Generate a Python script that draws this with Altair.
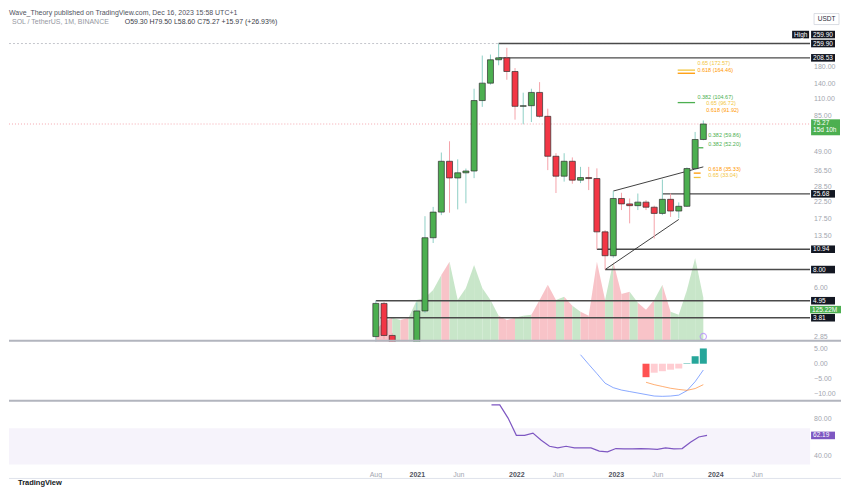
import altair as alt
import pandas as pd

# ---------------- data ----------------
months = ["2020-08", "2020-09", "2020-10", "2020-11", "2020-12",
          "2021-01", "2021-02", "2021-03", "2021-04", "2021-05", "2021-06",
          "2021-07", "2021-08", "2021-09", "2021-10", "2021-11", "2021-12",
          "2022-01", "2022-02", "2022-03", "2022-04", "2022-05", "2022-06",
          "2022-07", "2022-08", "2022-09", "2022-10", "2022-11", "2022-12",
          "2023-01", "2023-02", "2023-03", "2023-04", "2023-05", "2023-06",
          "2023-07", "2023-08", "2023-09", "2023-10", "2023-11", "2023-12"]

opens = [2.85, 4.75, 2.90, 1.60, 1.95, 1.52, 4.23, 13.06, 19.38, 42.4, 32.8,
         35.5, 36.5, 108.0, 141.2, 202.4, 208.5, 169.0, 98.8, 99.8, 122.4,
         84.7, 45.8, 33.7, 42.4, 31.7, 33.0, 32.5, 14.3, 9.9, 23.9,
         22.0, 21.4, 22.6, 20.9, 19.0, 23.6, 19.7, 21.2, 37.9, 59.30]
highs = [4.95, 4.85, 3.0, 2.5, 2.4, 4.81, 18.2, 21.0, 48.5, 57.7, 43.7,
         37.9, 129.6, 216.0, 219.4, 259.9, 243.3, 178.0, 121.9, 129.6, 143.5,
         95.3, 48.0, 48.0, 45.0, 38.9, 38.9, 38.0, 14.7, 26.8, 26.1,
         23.9, 25.8, 23.3, 21.4, 32.0, 25.8, 22.5, 38.6, 66.6, 79.50]
lows = [2.6, 2.75, 1.5, 1.4, 1.4, 1.45, 4.1, 12.04, 18.5, 19.2, 20.2,
        22.2, 32.7, 98.0, 138.0, 186.0, 148.8, 80.5, 74.9, 77.6, 83.0,
        37.0, 26.0, 31.0, 30.0, 30.3, 27.2, 10.94, 8.0, 9.6, 20.0,
        16.3, 20.0, 20.0, 12.9, 18.5, 18.0, 17.6, 21.0, 37.0, 58.60]
closes = [4.75, 2.90, 1.60, 1.95, 1.52, 4.23, 13.06, 19.38, 42.4, 32.8, 35.5,
          36.5, 108.0, 141.2, 202.4, 208.5, 169.0, 98.8, 99.8, 122.4, 84.7,
          45.8, 33.7, 42.4, 31.7, 33.0, 32.5, 14.3, 9.9, 23.9, 22.0,
          21.4, 22.6, 20.9, 19.0, 23.6, 19.7, 21.2, 37.9, 59.30, 75.27]
volumes = [34, 57, 68, 62, 68, 119, 125, 147, 190, 227, 119,
           153, 218, 153, 119, 74, 62, 68, 74, 77, 119,
           162, 119, 128, 102, 85, 74, 227, 119, 227, 136,
           142, 111, 91, 119, 162, 85, 77, 147, 238, 125.22]

# horizontal levels: price and the month index they start at
level_prices = [259.90, 208.53, 25.68, 10.94, 8.00, 4.95, 3.81]
level_start = [15, 15, 35, 27, 28, 0, 0.57]

# trend lines (start month, price) -> (end month, price)
trend_from = [("2023-01", 26.8), ("2022-12", 8.0)]
trend_to = [("2023-12", 38.9), ("2023-09", 17.3)]

# fibonacci annotations
fib_ratio = ["0.65", "0.618", "0.382", "0.65", "0.618", "0.382", "0.382", "0.618", "0.65"]
fib_value = [172.57, 164.46, 104.67, 96.72, 91.92, 59.86, 52.20, 35.33, 33.04]
fib_text_at = [39.28, 39.28, 39.28, 40.36, 40.36, 40.6, 40.6, 40.6, 40.6]
fib_line_ratio = ["0.65", "0.618", "0.382", "0.382", "0.618", "0.65"]
fib_line_value = [172.57, 164.46, 104.67, 52.20, 35.33, 33.04]
fib_line_from = [36.87, 36.87, 36.87, 39.28, 38.83, 38.83]
fib_line_to = [38.99, 38.99, 38.99, 40.0, 39.67, 39.67]

# MACD (12,26,9)
macd_vals = [3.0, -0.2, -3.3, -6.5, -8.0, -8.8, -9.3, -9.8, -10.3, -10.8,
             -10.9, -10.8, -10.5, -9.0, -6.0, -2.1]          # from 2022-09
signal_vals = [-6.2, -7.0, -7.6, -8.2, -8.6, -8.9, -8.3, -7.0]  # from 2023-05
hist_vals = [-4.5, -3.0, -2.5, -2.0, -1.6, 0.15, 2.5, 5.1]      # from 2023-05

# RSI (14)
rsi_vals = [95.9, 95.9, 81.3, 62.3, 62.3, 64.8, 56.8, 50.2, 48.4, 50.2,
            48.4, 48.4, 48.4, 44.8, 44.1, 47.7, 47.4, 47.4, 47.7, 47.4,
            46.7, 48.4, 47.4, 47.7, 54.6, 60.5, 62.19]         # from 2021-10

time_tick_months = ["2020-08", "2021-01", "2021-06", "2022-01", "2022-06",
                    "2023-01", "2023-06", "2024-01", "2024-06"]
time_tick_labels = ["Aug", "2021", "Jun", "2022", "Jun", "2023", "Jun", "2024", "Jun"]
price_ticks = [180, 140, 110, 85, 49, 36.5, 28.5, 22.5, 17.5, 13.5, 6, 2.85]
macd_ticks = [5, 0, -5, -10]
rsi_ticks = [80, 40]

title_text = "Wave_Theory published on TradingView.com, Dec 16, 2023 15:58 UTC+1"
symbol_text = "SOL / TetherUS, 1M, BINANCE"
ohlc_text = "O59.30  H79.50  L58.60  C75.27  +15.97 (+26.93%)"
countdown_text = "15d 10h"


# ---------------- helpers ----------------
def mi(m):
    y, mo = m.split("-")
    return (int(y) - 2020) * 12 + (int(mo) - 8)


def fmt(v):
    return f"{v:.2f}".replace("-", "\u2212")


W, HM, HD, HR = 803, 334, 59, 63
FONT = "Liberation Sans"
AXIS_GRAY = "#a3a6af"
xs = alt.Scale(domain=[-44.2, 52.43], nice=False, zero=False)
ps = alt.Scale(type="log", domain=[2.631, 445.3], nice=False)
vs = alt.Scale(domain=[0, 946.5], nice=False, zero=True)
ds = alt.Scale(domain=[-12.67, 7.0], nice=False, zero=False)
rs = alt.Scale(domain=[29.0, 98.4], nice=False, zero=False)


def X(f="i"):
    return alt.X(f"{f}:Q", scale=xs, axis=None)


def P(f):
    return alt.Y(f"{f}:Q", scale=ps, axis=None)


def tick_labels(values, scale):
    df = pd.DataFrame({"v": values, "t": [fmt(v) for v in values]})
    return alt.Chart(df).mark_text(align="left", baseline="middle", fontSize=7, color=AXIS_GRAY).encode(
        x=alt.value(W + 4), y=alt.Y("v:Q", scale=scale, axis=None), text="t:N")


idx = [mi(m) for m in months]
candles = pd.DataFrame({"i": idx, "open": opens, "high": highs, "low": lows, "close": closes})
up_test = "datum.close >= datum.open"

# ---------------- main panel ----------------
vrows = []
for k in range(1, len(idx)):
    d = "up" if closes[k] >= opens[k] else "down"
    vrows.append({"i": idx[k - 1], "v": volumes[k - 1], "seg": k, "dir": d})
    vrows.append({"i": idx[k], "v": volumes[k], "seg": k, "dir": d})
vol_df = pd.DataFrame(vrows)

vol_area = alt.Chart(vol_df).mark_area(clip=True, interpolate="linear").encode(
    x=X(),
    y=alt.Y("v:Q", scale=vs, axis=None, stack=None),
    color=alt.Color("dir:N", scale=alt.Scale(domain=["up", "down"], range=["#c8e6c9", "#f8c3c8"]), legend=None),
    detail="seg:N",
)
vlast = pd.DataFrame({"v": [volumes[-1]], "t": [f"{volumes[-1]:.2f}M"]})
vol_box = alt.Chart(vlast).mark_rect(color="#4caf50", yOffset=8.2, y2Offset=15.6).encode(
    x=alt.value(W), x2=alt.value(W + 31), y=alt.Y("v:Q", scale=vs, axis=None), y2="v")
vol_txt = alt.Chart(vlast).mark_text(color="white", fontSize=6.5, align="left", baseline="middle", dy=11.9).encode(
    x=alt.value(W + 2), y=alt.Y("v:Q", scale=vs, axis=None), text="t:N")
vol_group = alt.layer(vol_area, vol_box, vol_txt)

hi_df = pd.DataFrame({"p": [max(highs)], "t": [f"{max(highs):.2f}"], "h": ["High"]})
high_line = alt.Chart(hi_df).mark_rule(color="#c4c6cc", strokeDash=[2, 2], strokeWidth=1).encode(
    x=alt.value(0), x2=alt.value(W), y=P("p"))
cp_df = pd.DataFrame({"p": [closes[-1]], "t": [f"{closes[-1]:.2f}"], "c": [countdown_text]})
cp_line = alt.Chart(cp_df).mark_rule(color="#f5a8b0", strokeDash=[1, 2], strokeWidth=1).encode(
    x=alt.value(0), x2=alt.value(W), y=P("p"))

lv = pd.DataFrame({"p": level_prices, "start": level_start, "t": [f"{p:.2f}" for p in level_prices]})
level_lines = alt.Chart(lv).mark_rule(color="#4a4a4a", strokeWidth=1.4, clip=True).encode(
    x=X("start"), x2=alt.value(W), y=P("p"))

tl = pd.DataFrame({"x0": [mi(a) for a, _ in trend_from], "p0": [b for _, b in trend_from],
                   "x1": [mi(a) for a, _ in trend_to], "p1": [b for _, b in trend_to]})
trend = alt.Chart(tl).mark_rule(color="#2a2a2a", strokeWidth=0.9, clip=True).encode(
    x=X("x0"), x2="x1", y=P("p0"), y2="p1")

wick = alt.Chart(candles).mark_rule(clip=True, strokeWidth=1).encode(
    x=X(), y=P("low"), y2="high",
    color=alt.condition(up_test, alt.value("#8fd0c6"), alt.value("#f5a3aa")))
body = alt.Chart(candles).mark_bar(size=6, clip=True, stroke="#2f2f2f", strokeWidth=0.7).encode(
    x=X(), y=P("open"), y2="close",
    fill=alt.condition(up_test, alt.value("#4caf50"), alt.value("#f23645")))

fib_scale = alt.Scale(domain=["0.382", "0.618", "0.65"], range=["#4caf50", "#ff9800", "#f2c53d"])
fl = pd.DataFrame({"r": fib_line_ratio, "p": fib_line_value, "x0": fib_line_from, "x1": fib_line_to})
fib_lines = alt.Chart(fl).mark_rule(strokeWidth=1.3).encode(
    x=X("x0"), x2="x1", y=P("p"), color=alt.Color("r:N", scale=fib_scale, legend=None))
ft = pd.DataFrame({"r": fib_ratio, "p": fib_value, "i": fib_text_at,
                   "t": [f"{r} ({v:.2f})" for r, v in zip(fib_ratio, fib_value)]})
# vertical nudges of each fib label (pixels) so neighbouring labels stay readable
fib_dy = [-7.5, -3.5, -5.5, -4.5, -1.0, -4.0, -3.5, -4.5, -2.0]
fib_text_layers = []
for k in range(len(ft)):
    fib_text_layers.append(
        alt.Chart(ft.iloc[[k]]).mark_text(align="left", baseline="middle", fontSize=5.5, dy=fib_dy[k]).encode(
            x=X(), y=P("p"), text="t:N", color=alt.Color("r:N", scale=fib_scale, legend=None)))

level_box = alt.Chart(lv).mark_rect(color="#131722", yOffset=-3.8, y2Offset=3.8).encode(
    x=alt.value(W + 1), x2=alt.value(W + 25), y=P("p"), y2="p")
level_txt = alt.Chart(lv).mark_text(color="white", fontSize=6.5, align="left", baseline="middle").encode(
    x=alt.value(W + 3), y=P("p"), text="t:N")
high_box = alt.Chart(hi_df).mark_rect(color="#131722", yOffset=-12.8, y2Offset=-5.2).encode(
    x=alt.value(W + 1), x2=alt.value(W + 25), y=P("p"), y2="p")
high_box2 = alt.Chart(hi_df).mark_rect(color="#131722", yOffset=-12.8, y2Offset=-5.2).encode(
    x=alt.value(W - 18), x2=alt.value(W - 1), y=P("p"), y2="p")
high_txt = alt.Chart(hi_df).mark_text(color="white", fontSize=6.5, align="left", baseline="middle", dy=-9).encode(
    x=alt.value(W + 3), y=P("p"), text="t:N")
high_txt2 = alt.Chart(hi_df).mark_text(color="white", fontSize=6.5, align="left", baseline="middle", dy=-9).encode(
    x=alt.value(W - 16), y=P("p"), text="h:N")

cp_box = alt.Chart(cp_df).mark_rect(color="#4caf50", yOffset=-4.7, y2Offset=11.3).encode(
    x=alt.value(W + 1), x2=alt.value(W + 30), y=P("p"), y2="p")
cp_txt = alt.Chart(cp_df).mark_text(color="white", fontSize=6.5, align="left", baseline="middle", dy=-1.5).encode(
    x=alt.value(W + 3), y=P("p"), text="t:N")
cp_txt2 = alt.Chart(cp_df).mark_text(color="white", fontSize=6.5, align="left", baseline="middle", dy=6.3).encode(
    x=alt.value(W + 3), y=P("p"), text="c:N")

ev = pd.DataFrame({"i": [idx[-1]], "p": [2.85]})
event = alt.Chart(ev).mark_point(shape="circle", size=40, filled=False, stroke="#b388ff", strokeWidth=1.2).encode(
    x=X(), y=P("p"))

one = pd.DataFrame({"t": [title_text], "s": [symbol_text], "o": [ohlc_text], "u": ["USDT"]})
hdr1 = alt.Chart(one).mark_text(align="left", baseline="top", fontSize=7, color="#50535e").encode(
    x=alt.value(0), y=alt.value(0), text="t:N")
hdr2 = alt.Chart(one).mark_text(align="left", baseline="middle", fontSize=7, color="#9598a1").encode(
    x=alt.value(3), y=alt.value(13), text="s:N")
hdr3 = alt.Chart(one).mark_text(align="left", baseline="middle", fontSize=7, color="#3a3d47").encode(
    x=alt.value(116), y=alt.value(13), text="o:N")
usdt_box = alt.Chart(one).mark_rect(fill="white", stroke="#d1d4dc", strokeWidth=0.8).encode(
    x=alt.value(W + 4), x2=alt.value(W + 29), y=alt.value(5), y2=alt.value(16))
usdt_txt = alt.Chart(one).mark_text(align="center", baseline="middle", fontSize=6.5, color="#2a2e39").encode(
    x=alt.value(W + 16.5), y=alt.value(10.5), text="u:N")
sep1 = alt.Chart(one).mark_rule(color="#b2b5be", strokeWidth=2).encode(
    x=alt.value(0), x2=alt.value(W + 31), y=alt.value(HM - 1))

price_group = alt.layer(
    tick_labels(price_ticks, ps),
    high_line, cp_line, level_lines, trend, wick, body, fib_lines, *fib_text_layers, event,
    level_box, level_txt, high_box, high_box2, high_txt, high_txt2, cp_box, cp_txt, cp_txt2,
    hdr1, hdr2, hdr3, usdt_box, usdt_txt, sep1,
)
main = alt.layer(vol_group, price_group).resolve_scale(y="independent", color="independent").properties(
    width=W, height=HM)

# ---------------- MACD panel ----------------
hist_idx = [mi(m) for m in months[33:]]
cats = []
for k, h in enumerate(hist_vals):
    prev = hist_vals[k - 1] if k > 0 else 0.0
    rising = h > prev
    if h >= 0:
        cats.append("pos_up" if rising else "pos_dn")
    else:
        cats.append("neg_up" if rising else "neg_dn")
hist_df = pd.DataFrame({"i": hist_idx, "h": hist_vals, "c": cats})
hist = alt.Chart(hist_df).mark_bar(size=7).encode(
    x=X(), y=alt.Y("h:Q", scale=ds, axis=None), y2=alt.datum(0),
    color=alt.Color("c:N", scale=alt.Scale(domain=["neg_dn", "neg_up", "pos_up", "pos_dn"],
                                           range=["#ff5252", "#ffcdd2", "#26a69a", "#b2dfdb"]), legend=None))
macd_df = pd.DataFrame({"i": [mi(m) for m in months[25:]], "m": macd_vals})
macd_line = alt.Chart(macd_df).mark_line(color="#2962ff", strokeWidth=1, opacity=0.55).encode(
    x=X(), y=alt.Y("m:Q", scale=ds, axis=None))
sig_df = pd.DataFrame({"i": [mi(m) for m in months[33:]], "s": signal_vals})
sig_line = alt.Chart(sig_df).mark_line(color="#ff6d00", strokeWidth=1, opacity=0.55).encode(
    x=X(), y=alt.Y("s:Q", scale=ds, axis=None))
sep2 = alt.Chart(one).mark_rule(color="#b2b5be", strokeWidth=2).encode(
    x=alt.value(0), x2=alt.value(W + 31), y=alt.value(HD - 1))
macd = alt.layer(tick_labels(macd_ticks, ds), hist, macd_line, sig_line, sep2).properties(width=W, height=HD)

# ---------------- RSI panel ----------------
tick_vals = [mi(m) for m in time_tick_months]
label_expr = " : ".join(f"datum.value == {v} ? '{l}'" for v, l in zip(tick_vals, time_tick_labels)) + " : ''"
year_vals = [v for v, l in zip(tick_vals, time_tick_labels) if len(l) == 4]
year_test = "indexof([" + ",".join(str(v) for v in year_vals) + "], datum.value) >= 0"
time_axis = alt.Axis(orient="bottom", values=tick_vals, labelExpr=label_expr,
                     labelColor={"condition": {"test": year_test, "value": "#50535e"}, "value": AXIS_GRAY},
                     labelFontWeight={"condition": {"test": year_test, "value": "bold"}, "value": "normal"},
                     labelPadding=5, labelFontSize=7, labelOverlap=False, labelFlush=False,
                     domain=False, ticks=False, grid=False, title=None)
band_df = pd.DataFrame({"lo": [30], "hi": [70]})
band = alt.Chart(band_df).mark_rect(color="#7e57c2", opacity=0.07).encode(
    x=alt.value(0), x2=alt.value(W), y=alt.Y("lo:Q", scale=rs, axis=None), y2="hi")
rsi_df = pd.DataFrame({"i": [mi(m) for m in months[14:]], "r": rsi_vals})
rsi_line = alt.Chart(rsi_df).mark_line(color="#7e57c2", strokeWidth=1.2).encode(
    x=alt.X("i:Q", scale=xs, axis=time_axis, title=None),
    y=alt.Y("r:Q", scale=rs, axis=None))
rlast = pd.DataFrame({"r": [rsi_vals[-1]], "t": [f"{rsi_vals[-1]:.2f}"]})
rsi_box = alt.Chart(rlast).mark_rect(color="#7e57c2", yOffset=-3.8, y2Offset=3.8).encode(
    x=alt.value(W + 1), x2=alt.value(W + 25), y=alt.Y("r:Q", scale=rs, axis=None), y2="r")
rsi_txt = alt.Chart(rlast).mark_text(color="white", fontSize=6.5, align="left", baseline="middle").encode(
    x=alt.value(W + 3), y=alt.Y("r:Q", scale=rs, axis=None), text="t:N")
foot = pd.DataFrame({"t": ["TradingView"]})
frame_bottom = alt.Chart(foot).mark_rule(color="#e0e3eb", strokeWidth=1).encode(
    x=alt.value(0), x2=alt.value(W + 31), y=alt.value(76))
brand = alt.Chart(foot).mark_text(align="left", baseline="middle", fontSize=7.5, fontWeight="bold",
                                  color="#131722").encode(x=alt.value(9), y=alt.value(81), text="t:N")
rsi = alt.layer(band, tick_labels(rsi_ticks, rs), rsi_line, rsi_box, rsi_txt, frame_bottom, brand).properties(
    width=W, height=HR)

chart = alt.vconcat(main, macd, rsi, spacing=0).resolve_scale(
    x="independent", y="independent", color="independent"
).properties(padding=0).configure(font=FONT).configure_view(stroke=None).configure_axis(
    labelFont=FONT, labelFontSize=7, labelColor=AXIS_GRAY, domain=False, ticks=False, grid=False
)

chart.save("out.html", embed_options={"renderer": "svg", "actions": False})
